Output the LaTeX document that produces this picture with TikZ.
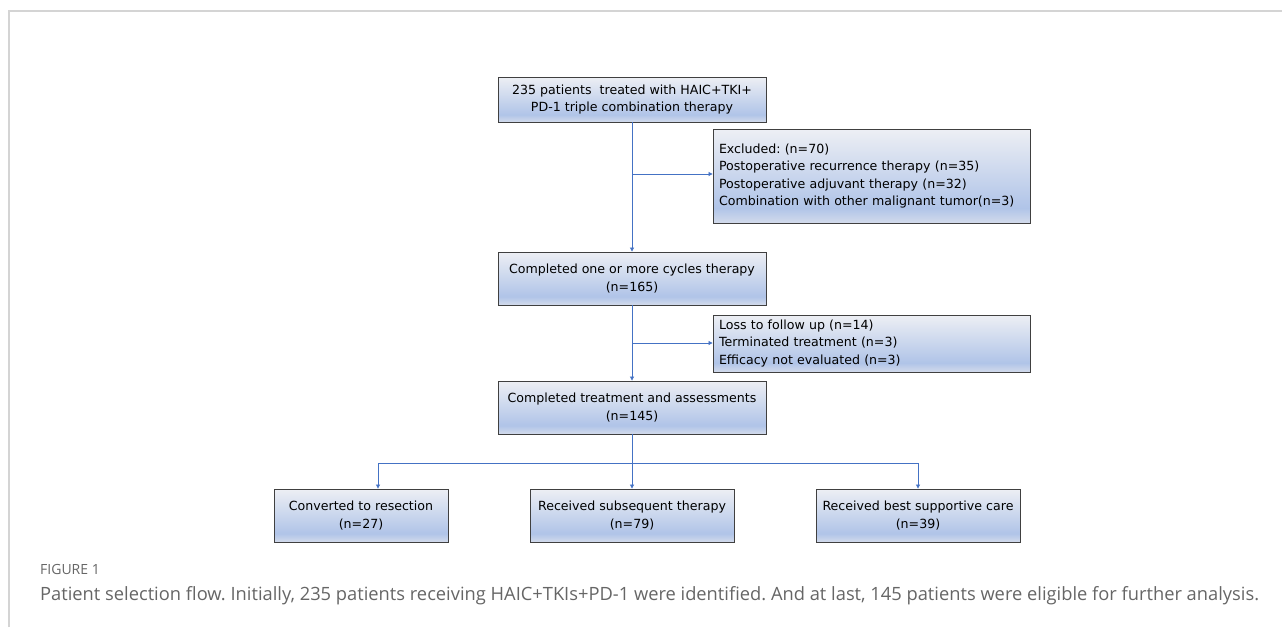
\documentclass[tikz,border=0pt]{standalone}
\usepackage{fontspec}
\setmainfont{DejaVu Sans}
\newfontfamily\capfont{Open Sans}
\usetikzlibrary{arrows.meta}
\frenchspacing
\definecolor{boxtop}{HTML}{EDEFF4}
\definecolor{boxblue}{HTML}{B0C4E8}
\definecolor{boxbot}{HTML}{D3DBEB}
\definecolor{linkblue}{HTML}{4472C4}
\definecolor{framegray}{HTML}{D4D4D4}
\definecolor{capgray}{HTML}{666666}
\pgfdeclareverticalshading{boxshade}{100bp}{color(0bp)=(boxbot); color(25bp)=(boxbot); color(33bp)=(boxblue); color(75bp)=(boxtop); color(100bp)=(boxtop)}
\tikzset{
  flowbox/.style={draw=black!75, line width=0.9pt, shading=boxshade, align=center,
    font=\fontsize{12.6}{17.3}\selectfont, inner sep=0pt},
  sidebox/.style={flowbox, align=left, text width=305pt, inner xsep=6pt},
  conn/.style={draw=linkblue, line width=0.8pt, -{Triangle[length=4pt,width=4pt]}},
  plainconn/.style={draw=linkblue, line width=0.8pt},
}
\begin{document}
\begin{tikzpicture}[x=1pt,y=-1pt]
\useasboundingbox (0,0) rectangle (1282,627);
\fill[white] (0,0) rectangle (1282,627);
\draw[framegray, line width=1.5pt] (9,627) -- (9,11) -- (1282,11);

\node[flowbox, minimum width=268pt, minimum height=45pt] (top) at (632,99.5)
  {235 patients\ \ treated with HAIC+TKI+\\PD-1 triple combination therapy};
\node[sidebox, minimum height=94pt] (excl) at (871.5,176)
  {Excluded: (n=70)\\Postoperative recurrence therapy (n=35)\\Postoperative adjuvant therapy (n=32)\\Combination with other malignant tumor(n=3)};
\node[flowbox, minimum width=268pt, minimum height=53pt] (cyc) at (632,278.5)
  {Completed one or more cycles therapy\\(n=165)};
\node[sidebox, minimum height=57pt] (loss) at (871.5,343.5)
  {Loss to follow up (n=14)\\Terminated treatment (n=3)\\Efficacy not evaluated (n=3)};
\node[flowbox, minimum width=268pt, minimum height=53pt] (assess) at (632,407.5)
  {Completed treatment and assessments\\(n=145)};
\node[flowbox, minimum width=174pt, minimum height=53pt] (res) at (361,515.5)
  {Converted to resection\\(n=27)};
\node[flowbox, minimum width=204pt, minimum height=53pt] (subs) at (632,515.5)
  {Received subsequent therapy\\(n=79)};
\node[flowbox, minimum width=204pt, minimum height=53pt] (best) at (918,515.5)
  {Received best supportive care\\(n=39)};

\coordinate (b1) at (632,174);
\coordinate (b2) at (632,343);
\coordinate (hl) at (378,463);
\coordinate (hr) at (918,463);

\draw[conn] (top.south) -- (cyc.north);
\draw[conn] (b1) -- (b1 -| excl.west);
\draw[conn] (cyc.south) -- (assess.north);
\draw[conn] (b2) -- (b2 -| loss.west);
\draw[conn] (assess.south) -- (subs.north);
\draw[plainconn] (hl) -- (hr);
\draw[conn] (hl) -- (hl |- res.north);
\draw[conn] (hr) -- (hr |- best.north);

\node[anchor=base west, inner sep=0pt, text=capgray, font=\capfont\fontsize{14}{16}\selectfont] (figlabel) at (40,574) {FIGURE 1};
\node[anchor=base west, inner sep=0pt, text=capgray, font=\capfont\fontsize{18.3}{21}\selectfont] (caption) at (40,600)
  {Patient selection flow. Initially, 235 patients receiving HAIC+TKIs+PD-1 were identified. And at last, 145 patients were eligible for further analysis.};
\end{tikzpicture}
\end{document}
